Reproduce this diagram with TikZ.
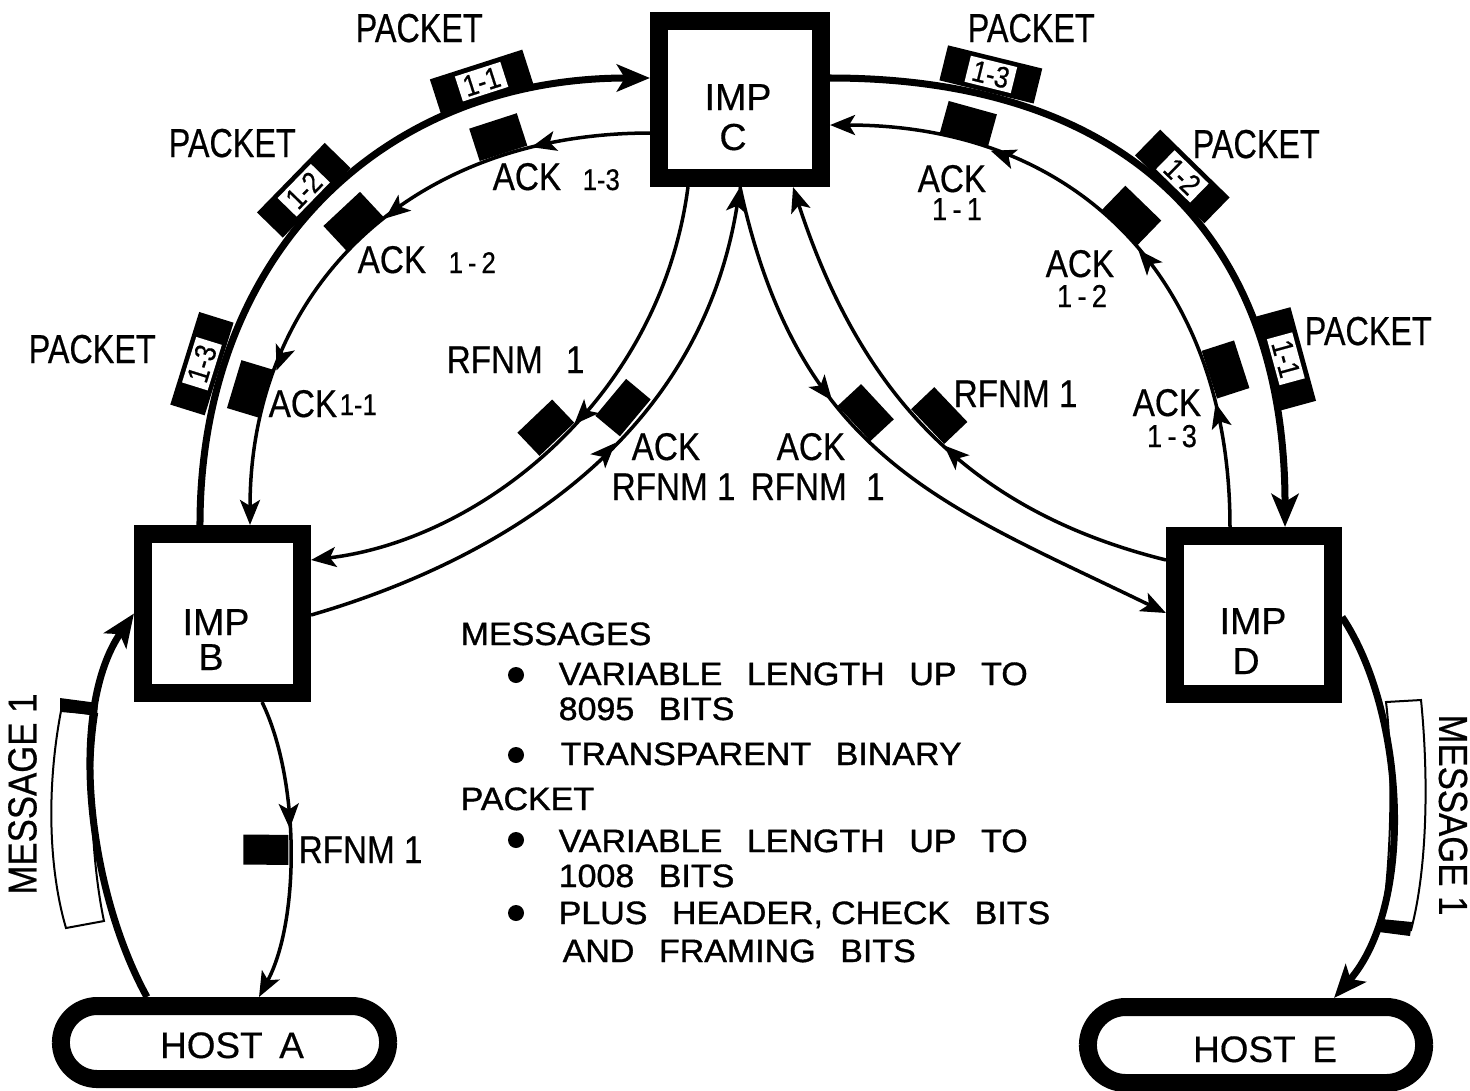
\documentclass[tikz,border=0pt]{standalone}
\usepackage{fontspec}
\setmainfont{Liberation Sans}[FakeBold=0.4]
\newfontfamily\pkf{Liberation Sans}[FakeStretch=0.8, FakeBold=0.5]
\newfontfamily\lf{Liberation Sans}[FakeStretch=0.86, FakeBold=0.5]
\newfontfamily\lgf{Liberation Sans}[FakeStretch=1.05, FakeBold=1.1]
\usetikzlibrary{arrows.meta,decorations.markings}
\newcommand\pktlab[1]{{\setlength\fboxsep{0.8pt}\colorbox{white}{\makebox[0.42cm]{\lf\fontsize{8.5}{9}\selectfont #1}}}}
\newcommand\lgdfont{\lgf\fontsize{9.2}{11}\selectfont\spaceskip 7pt\relax}
\begin{document}
\begin{tikzpicture}[x=0.01cm,y=-0.01cm,
  >={Stealth[length=0.25cm,width=0.2cm,inset=0.06cm]},
  thinln/.style={line width=0.035cm},
  thickln/.style={line width=0.07cm},
  bigtip/.style={-{Stealth[length=0.33cm,width=0.27cm,inset=0.08cm]}},
  imp/.style={draw, line width=0.185cm, inner sep=0},
  host/.style={draw, line width=0.18cm, inner sep=0},
  packet/.style={fill=black, minimum width=0.97cm, minimum height=0.36cm, inner sep=0, transform shape, anchor=south},
  ackblk/.style={fill=black, minimum width=0.5cm, minimum height=0.34cm, inner sep=0, transform shape},
  midblk/.style={fill=black, minimum width=0.48cm, minimum height=0.32cm, inner sep=0, transform shape},
  pk/.style={inner sep=0, anchor=base west, font=\pkf\fontsize{11.5}{13}\selectfont},
  lb/.style={inner sep=0, anchor=base west, font=\lf\fontsize{11}{12}\selectfont},
  sm/.style={inner sep=0, anchor=base west, font=\lf\fontsize{8.5}{9}\selectfont},
  num/.style={inner sep=0, anchor=base, font=\lf\fontsize{9}{10}\selectfont},
  imptxt/.style={inner sep=0, anchor=base, font=\fontsize{10.7}{12}\selectfont},
  lg/.style={inner sep=0, anchor=base west, font=\lgdfont},
  dot/.style={circle, fill=black, inner sep=0, minimum size=0.16cm},
]
\fill[white] (0,0) rectangle (1470,1090);
\useasboundingbox (0,0) rectangle (1470,1090);

% IMP boxes and hosts
\node[imp, minimum width=1.615cm, minimum height=1.565cm] (impC) at (740,99.5) {};
\node[imp, minimum width=1.585cm, minimum height=1.585cm] (impB) at (222.5,613.5) {};
\node[imp, minimum width=1.575cm, minimum height=1.575cm] (impD) at (1254,615) {};
\node[host, minimum width=3.27cm, minimum height=0.73cm, rounded corners=0.365cm] (hostA) at (224.5,1042.5) {};
\node[host, minimum width=3.36cm, minimum height=0.76cm, rounded corners=0.38cm] (hostE) at (1256,1045) {};

\node[imptxt] (tC1) at (738,110) {IMP};
\node[imptxt] (tC2) at (733,150) {C};
\node[imptxt] (tB1) at (216,635) {IMP};
\node[imptxt] (tB2) at (211,670) {B};
\node[imptxt] (tD1) at (1253,634) {IMP};
\node[imptxt] (tD2) at (1246,674) {D};
\node[imptxt, font=\fontsize{10.5}{12}\selectfont] (tHA) at (232,1058) {HOST\hspace{0.45em}A};
\node[imptxt, font=\fontsize{10.5}{12}\selectfont] (tHE) at (1265,1062) {HOST\hspace{0.45em}E};

% message strips
\draw[line width=0.02cm, fill=white] (61,711) .. controls (46,790) and (49,870) .. (66,928) -- (104,921) .. controls (91,860) and (88,770) .. (97,714) -- cycle;
\fill (60,698) -- (98,703) -- (97,716) -- (60,711) -- cycle;
\draw[line width=0.02cm, fill=white] (1386,702) -- (1421,700) .. controls (1429,780) and (1427,870) .. (1411,930) -- (1381,927) .. controls (1392,860) and (1393,760) .. (1386,702) -- cycle;
\fill (1381,919) -- (1412,922) -- (1410,936) -- (1379,932) -- cycle;
\node[rotate=90, inner sep=0, font=\lf\fontsize{11.5}{13}\selectfont] (tM1) at (22.5,794) {MESSAGE 1};
\node[rotate=-90, inner sep=0, font=\lf\fontsize{11.5}{13}\selectfont] (tM2) at (1453,815) {MESSAGE 1};

% left outer arc B -> C (packets)
\draw[thickln, bigtip, postaction={decorate}, decoration={markings,
  mark=at position 0.22 with {\node[packet] (pkA3) {\pktlab{1-3}};},
  mark=at position 0.49 with {\node[packet] (pkA2) {\pktlab{1-2}};},
  mark=at position 0.77 with {\node[packet] (pkA1) {\pktlab{1-1}};}}]
  ([xshift=-0.225cm]impB.north) .. controls (200,257) and (379,78) .. ([yshift=0.215cm]impC.west);
% left inner arc C -> B (acks)
\draw[thinln, ->, postaction={decorate}, decoration={markings,
  mark=at position 0.19 with {\arrow{>}},
  mark=at position 0.235 with {\node[ackblk, anchor=north] (akA3) {};},
  mark=at position 0.45 with {\arrow{>}},
  mark=at position 0.49 with {\node[ackblk, anchor=north] (akA2) {};},
  mark=at position 0.75 with {\arrow{>}},
  mark=at position 0.79 with {\node[ackblk, anchor=north] (akA1) {};}}]
  ([yshift=-0.335cm]impC.west) .. controls (410,133) and (250,290) .. ([xshift=0.275cm]impB.north);
% right outer arc C -> D (packets)
\draw[thickln, bigtip, postaction={decorate}, decoration={markings,
  mark=at position 0.215 with {\node[packet] (pkD3) {\pktlab{1-3}};},
  mark=at position 0.5 with {\node[packet] (pkD2) {\pktlab{1-2}};},
  mark=at position 0.775 with {\node[packet] (pkD1) {\pktlab{1-1}};}}]
  ([yshift=0.215cm]impC.east) .. controls (1126,78) and (1285,235) .. ([xshift=0.31cm]impD.north);
% right inner arc D -> C (acks)
\draw[thinln, ->, postaction={decorate}, decoration={markings,
  mark=at position 0.195 with {\arrow{>}},
  mark=at position 0.24 with {\node[ackblk, anchor=north] (akD3) {};},
  mark=at position 0.465 with {\arrow{>}},
  mark=at position 0.51 with {\node[ackblk, anchor=north] (akD2) {};},
  mark=at position 0.745 with {\arrow{>}},
  mark=at position 0.79 with {\node[ackblk, anchor=north] (akD1) {};}}]
  ([xshift=-0.24cm]impD.north) .. controls (1230,278) and (1076,125) .. ([yshift=-0.255cm]impC.east);

% middle lines
\draw[thinln, ->, postaction={decorate}, decoration={markings,
  mark=at position 0.47 with {\arrow{>}},
  mark=at position 0.51 with {\node[midblk, anchor=north] (rfA) {};}}]
  ([xshift=-0.52cm]impC.south) .. controls (660,400) and (480,540) .. ([yshift=0.535cm]impB.east);
\draw[thinln, ->, postaction={decorate}, decoration={markings,
  mark=at position 0.55 with {\arrow{>}},
  mark=at position 0.60 with {\node[midblk, anchor=south] (rfB) {};}}]
  ([yshift=-0.015cm]impB.east) .. controls (500,560) and (700,440) .. (impC.south);
\draw[thinln, ->, postaction={decorate}, decoration={markings,
  mark=at position 0.37 with {\arrow{>}},
  mark=at position 0.42 with {\node[midblk, anchor=south] (rfC) {};}}]
  (impC.south) .. controls (799,459) and (944,505) .. ([yshift=0.02cm]impD.west);
\draw[thinln, ->, postaction={decorate}, decoration={markings,
  mark=at position 0.455 with {\arrow{>}},
  mark=at position 0.50 with {\node[midblk, anchor=north] (rfD) {};}}]
  ([yshift=0.55cm]impD.west) .. controls (977,513) and (863,402) .. ([xshift=0.53cm]impC.south);

% host lines
\draw[thickln, bigtip] ([xshift=-0.775cm]hostA.north) .. controls (87,888) and (68,709) .. (impB.west);
\draw[thinln, ->, postaction={decorate}, decoration={markings,
  mark=at position 0.43 with {\arrow{>}},
  mark=at position 0.5 with {\node[midblk, minimum width=0.3cm, minimum height=0.45cm, anchor=north] (rfH) {};}}]
  ([xshift=0.395cm]impB.south) .. controls (300,780) and (300,920) .. ([xshift=0.345cm]hostA.north);
\draw[thickln, bigtip] ([yshift=-0.02cm]impD.east) .. controls (1405,711) and (1416,904) .. ([xshift=0.78cm]hostE.north);

% labels
\node[pk] (tpk1) at (355,42) {PACKET};
\node[pk] (tpk2) at (168,157) {PACKET};
\node[pk] (tpk3) at (28,363) {PACKET};
\node[pk] (tpk4) at (967,42) {PACKET};
\node[pk] (tpk5) at (1192,158) {PACKET};
\node[pk] (tpk6) at (1304,345) {PACKET};

\node[lb] (tack1) at (492,190) {ACK};
\node[sm] (tn1) at (582,190) {1-3};
\node[lb] (tack2) at (357,273) {ACK};
\node[sm] (tn2) at (448,273) {1\,-\,2};
\node[lb] (tack3) at (268,417) {ACK};
\node[sm] (tn3) at (339,415) {1-1};
\node[lb] (trf1) at (446,373) {RFNM\hspace{0.6em}1};
\node[lb] (tack4) at (631,460) {ACK};
\node[lb] (trf2) at (611,500) {RFNM 1};
\node[lb] (tack5) at (776,460) {ACK};
\node[lb] (trf3) at (750,500) {RFNM\hspace{0.5em}1};
\node[lb] (trf4) at (953,407) {RFNM 1};
\node[lb] (tack6) at (917,192) {ACK};
\node[num] (tn4) at (957,220) {1\,-\,1};
\node[lb] (tack7) at (1045,277) {ACK};
\node[num] (tn5) at (1082,307) {1\,-\,2};
\node[lb] (tack8) at (1132,416) {ACK};
\node[num] (tn6) at (1172,447) {1\,-\,3};
\node[lb] (trf5) at (298,863) {RFNM 1};

% legend
\node[lg] (lg1) at (460,645) {MESSAGES};
\node[dot] (d1) at (516,675) {};
\node[lg] (lg2) at (558,685) {VARIABLE LENGTH UP TO};
\node[lg] (lg3) at (558,720) {8095 BITS};
\node[dot] (d2) at (516,755) {};
\node[lg] (lg4) at (560,765) {TRANSPARENT BINARY};
\node[lg] (lg5) at (460,810) {PACKET};
\node[dot] (d3) at (516,840) {};
\node[lg] (lg6) at (558,852) {VARIABLE LENGTH UP TO};
\node[lg] (lg7) at (558,887) {1008 BITS};
\node[dot] (d4) at (516,913) {};
\node[lg] (lg8) at (558,924) {PLUS HEADER,\hskip0.25em CHECK BITS};
\node[lg] (lg9) at (562,962) {AND FRAMING BITS};
\end{tikzpicture}
\end{document}
